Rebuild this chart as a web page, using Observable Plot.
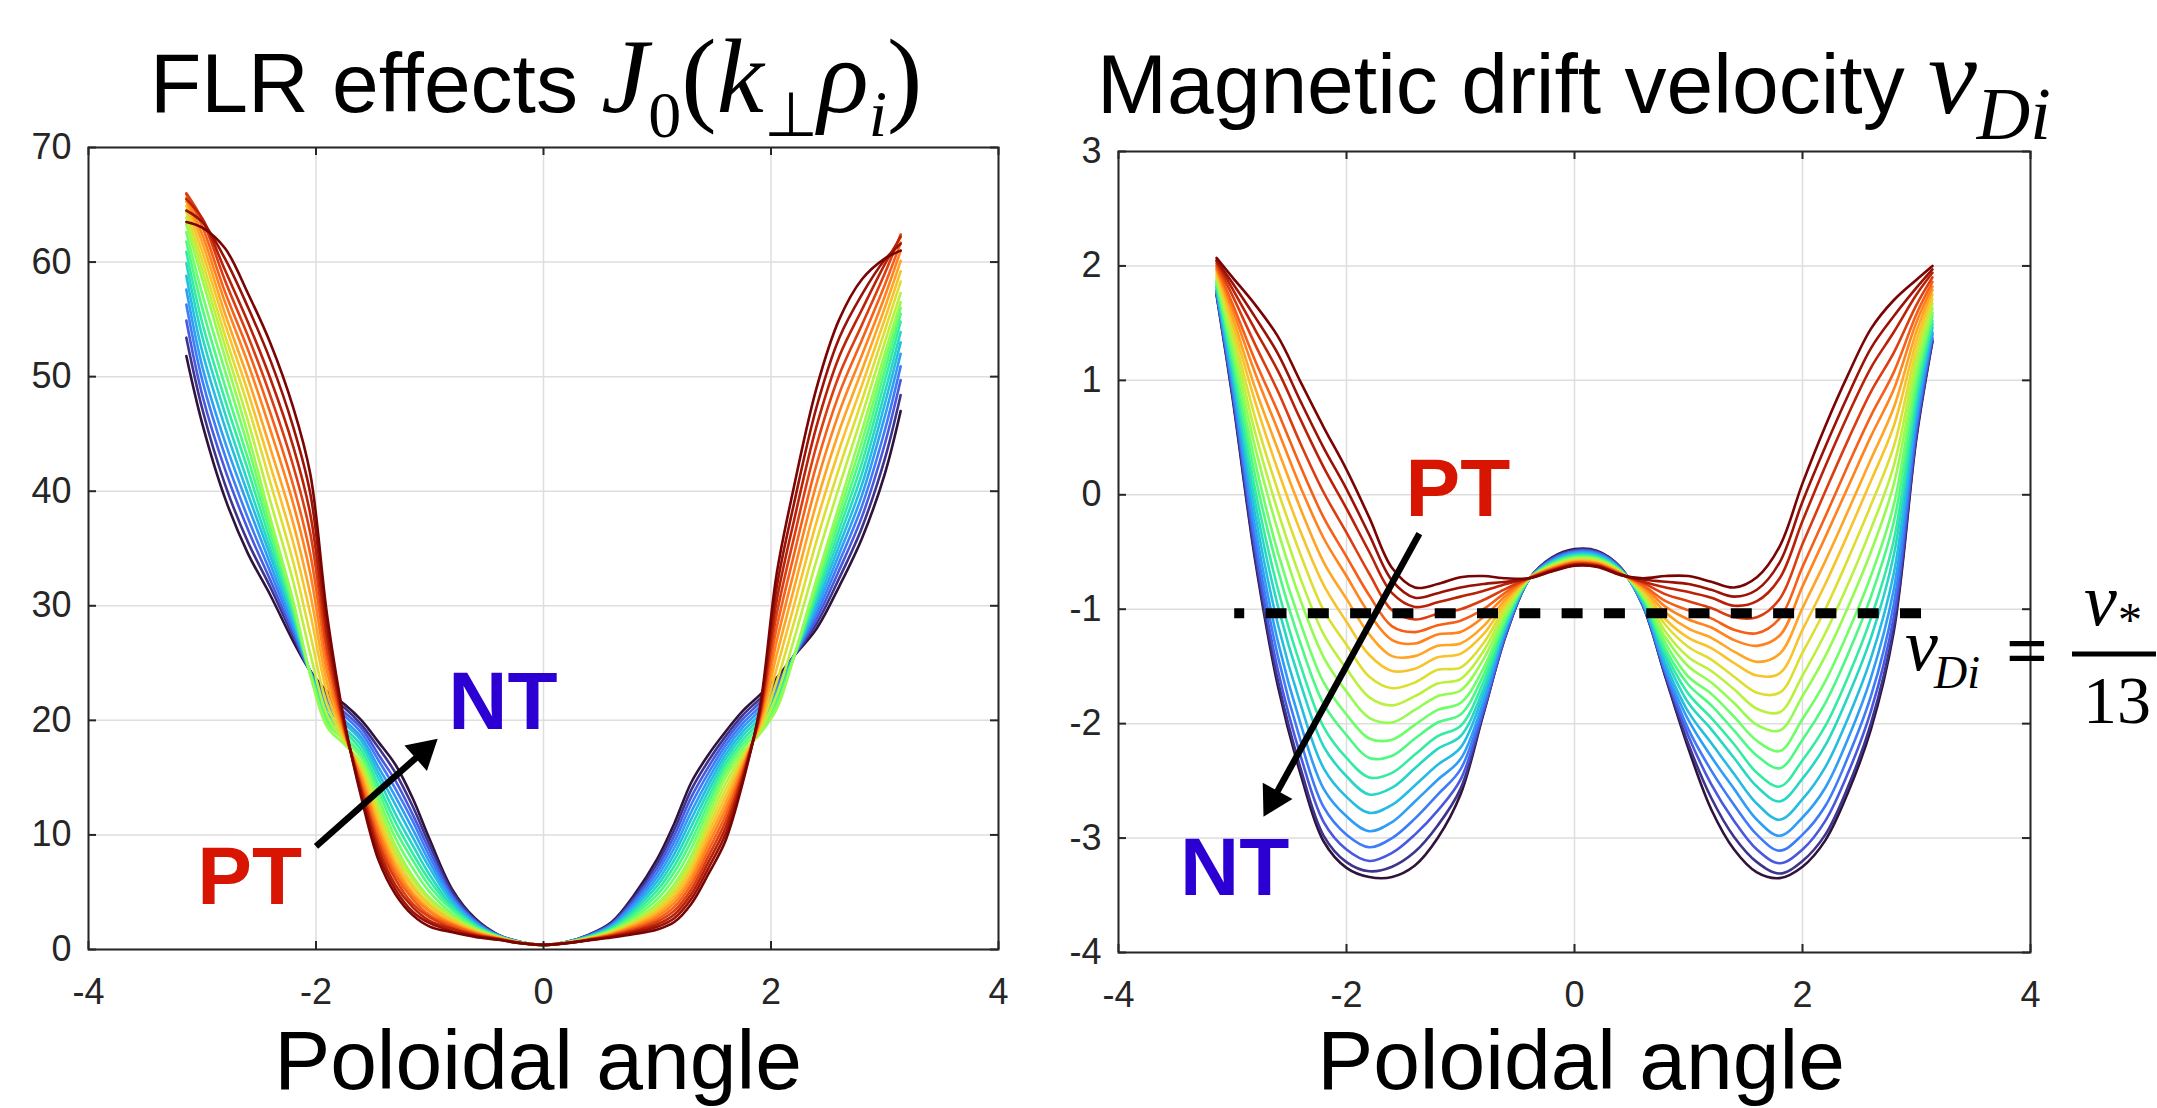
<!DOCTYPE html>
<html>
<head>
<meta charset="utf-8">
<script src="https://cdn.jsdelivr.net/npm/d3@7"></script>
<script src="https://cdn.jsdelivr.net/npm/@observablehq/plot@0.6"></script>
<style>
  html, body { margin: 0; padding: 0; background: #fff; }
  #page { position: relative; width: 2157px; height: 1108px; overflow: hidden; background: #fff; }
  #page > .panel { position: absolute; top: 0; }
  #overlay { position: absolute; left: 0; top: 0; pointer-events: none; }
</style>
</head>
<body>
<div id="page"></div>
<script>
// ---------------------------------------------------------------------------
// Data. Curves are ordered from negative triangularity (NT, index 0) to
// positive triangularity (PT, index 20). Each table row is one poloidal angle;
// each column is one curve.
// ---------------------------------------------------------------------------
const curveCount = 21;

const xTicks = [-4, -2, 0, 2, 4];
const flrTicks = [0, 10, 20, 30, 40, 50, 60, 70];
const vdiTicks = [-4, -3, -2, -1, 0, 1, 2, 3];

// FLR effects J0(k_perp rho_i) versus poloidal angle
const thetaFlr = [-3.14, -3.0, -2.8, -2.6, -2.4, -2.2, -2.05, -1.9, -1.75, -1.6, -1.45, -1.3, -1.15, -1.0, -0.8, -0.6, -0.4, -0.2, 0,
                  0.2, 0.4, 0.6, 0.8, 1.0, 1.15, 1.3, 1.45, 1.6, 1.75, 1.9, 2.05, 2.2, 2.4, 2.6, 2.8, 3.0, 3.14];
const flrTable = [
  [51.8, 53.4, 54.9, 56.3, 57.6, 58.8, 59.9, 60.9, 61.8, 62.6, 63.3, 63.9, 64.4, 64.9, 65.3, 65.6, 65.9, 66.0, 65.5, 64.5, 63.5],
  [45.9, 47.2, 48.4, 49.7, 50.9, 52.2, 53.5, 54.7, 56.0, 57.2, 58.5, 59.3, 60.1, 60.9, 61.7, 62.4, 63.1, 63.7, 63.8, 63.5, 63.0],
  [39.4, 40.6, 41.9, 43.1, 44.3, 45.6, 46.8, 48.0, 49.2, 50.5, 51.7, 52.7, 53.6, 54.6, 55.5, 56.5, 57.4, 58.4, 59.3, 60.3, 61.2],
  [34.6, 35.6, 36.7, 37.7, 38.8, 39.8, 40.8, 41.9, 42.9, 44.0, 45.0, 46.2, 47.5, 48.7, 49.9, 51.2, 52.4, 53.6, 54.8, 56.1, 57.3],
  [30.9, 31.6, 32.2, 32.9, 33.6, 34.3, 34.9, 35.6, 36.3, 36.9, 37.6, 39.1, 40.7, 42.2, 43.7, 45.3, 46.8, 48.3, 49.8, 51.4, 52.9],
  [26.9, 27.3, 27.6, 28.0, 28.3, 28.7, 29.0, 29.4, 29.7, 30.1, 30.4, 32.1, 33.8, 35.5, 37.2, 38.9, 40.5, 42.2, 43.9, 45.6, 47.3],
  [24.3, 24.3, 24.2, 24.2, 24.2, 24.2, 24.1, 24.1, 24.1, 24.0, 24.0, 25.8, 27.5, 29.3, 31.0, 32.8, 34.5, 36.3, 38.0, 39.8, 41.5],
  [22.5, 22.2, 21.9, 21.6, 21.3, 21.0, 20.6, 20.3, 20.0, 19.7, 19.4, 20.4, 21.3, 22.3, 23.2, 24.2, 25.2, 26.1, 27.1, 28.0, 29.0],
  [21.4, 21.1, 20.7, 20.4, 20.0, 19.7, 19.3, 19.0, 18.6, 18.3, 17.9, 18.1, 18.3, 18.5, 18.7, 18.9, 19.1, 19.3, 19.5, 19.7, 19.9],
  [20.0, 19.6, 19.3, 18.9, 18.5, 18.2, 17.8, 17.4, 17.0, 16.7, 16.3, 16.0, 15.7, 15.4, 15.1, 14.8, 14.4, 14.1, 13.8, 13.5, 13.2],
  [18.1, 17.6, 17.0, 16.5, 15.9, 15.4, 14.9, 14.3, 13.8, 13.2, 12.7, 12.2, 11.7, 11.2, 10.7, 10.3, 9.8, 9.3, 8.8, 8.3, 7.8],
  [16.1, 15.4, 14.7, 14.0, 13.3, 12.6, 11.8, 11.1, 10.4, 9.7, 9.0, 8.6, 8.2, 7.7, 7.3, 6.9, 6.5, 6.1, 5.6, 5.2, 4.8],
  [13.2, 12.5, 11.8, 11.2, 10.5, 9.8, 9.1, 8.4, 7.8, 7.1, 6.4, 6.1, 5.7, 5.4, 5.0, 4.7, 4.4, 4.0, 3.7, 3.3, 3.0],
  [9.6, 9.1, 8.6, 8.1, 7.6, 7.1, 6.5, 6.0, 5.5, 5.0, 4.5, 4.3, 4.0, 3.8, 3.5, 3.3, 3.0, 2.8, 2.5, 2.3, 2.0],
  [5.2, 5.0, 4.7, 4.5, 4.3, 4.1, 3.8, 3.6, 3.4, 3.1, 2.9, 2.8, 2.6, 2.5, 2.3, 2.2, 2.1, 1.9, 1.8, 1.6, 1.5],
  [2.7, 2.61, 2.52, 2.43, 2.34, 2.25, 2.16, 2.07, 1.98, 1.89, 1.8, 1.73, 1.66, 1.59, 1.52, 1.45, 1.38, 1.31, 1.24, 1.17, 1.1],
  [1.3, 1.28, 1.26, 1.24, 1.22, 1.2, 1.18, 1.16, 1.14, 1.12, 1.1, 1.08, 1.05, 1.03, 1.0, 0.98, 0.95, 0.93, 0.9, 0.88, 0.85],
  [0.65, 0.645, 0.64, 0.635, 0.63, 0.625, 0.62, 0.615, 0.61, 0.605, 0.6, 0.595, 0.59, 0.585, 0.58, 0.575, 0.57, 0.565, 0.56, 0.555, 0.55],
  [0.4, 0.4, 0.4, 0.4, 0.4, 0.4, 0.4, 0.4, 0.4, 0.4, 0.4, 0.4, 0.4, 0.4, 0.4, 0.4, 0.4, 0.4, 0.4, 0.4, 0.4],
  [0.65, 0.645, 0.64, 0.635, 0.63, 0.625, 0.62, 0.615, 0.61, 0.605, 0.6, 0.595, 0.59, 0.585, 0.58, 0.575, 0.57, 0.565, 0.56, 0.555, 0.55],
  [1.3, 1.27, 1.24, 1.21, 1.18, 1.15, 1.12, 1.09, 1.06, 1.03, 1.0, 0.98, 0.96, 0.94, 0.92, 0.9, 0.88, 0.86, 0.84, 0.82, 0.8],
  [2.4, 2.32, 2.24, 2.16, 2.08, 2.0, 1.92, 1.84, 1.76, 1.68, 1.6, 1.55, 1.49, 1.44, 1.38, 1.33, 1.27, 1.22, 1.16, 1.11, 1.05],
  [4.8, 4.58, 4.36, 4.14, 3.92, 3.7, 3.48, 3.26, 3.04, 2.82, 2.6, 2.48, 2.35, 2.23, 2.1, 1.98, 1.85, 1.73, 1.6, 1.48, 1.35],
  [7.9, 7.51, 7.12, 6.73, 6.34, 5.95, 5.56, 5.17, 4.78, 4.39, 4.0, 3.78, 3.55, 3.33, 3.1, 2.88, 2.65, 2.43, 2.2, 1.98, 1.75],
  [11.0, 10.47, 9.94, 9.41, 8.88, 8.35, 7.82, 7.29, 6.76, 6.23, 5.7, 5.37, 5.04, 4.71, 4.38, 4.05, 3.72, 3.39, 3.06, 2.73, 2.4],
  [14.6, 13.96, 13.32, 12.68, 12.04, 11.4, 10.76, 10.12, 9.48, 8.84, 8.2, 7.78, 7.36, 6.94, 6.52, 6.1, 5.68, 5.26, 4.84, 4.42, 4.0],
  [17.0, 16.47, 15.94, 15.41, 14.88, 14.35, 13.82, 13.29, 12.76, 12.23, 11.7, 11.19, 10.68, 10.17, 9.66, 9.15, 8.64, 8.13, 7.62, 7.11, 6.6],
  [19.0, 18.6, 18.2, 17.8, 17.4, 17.0, 16.6, 16.2, 15.8, 15.4, 15.0, 14.45, 13.9, 13.35, 12.8, 12.25, 11.7, 11.15, 10.6, 10.05, 9.5],
  [20.8, 20.44, 20.08, 19.72, 19.36, 19.0, 18.64, 18.28, 17.92, 17.56, 17.2, 16.93, 16.66, 16.39, 16.12, 15.85, 15.58, 15.31, 15.04, 14.77, 14.5],
  [22.2, 21.86, 21.52, 21.18, 20.84, 20.5, 20.16, 19.82, 19.48, 19.14, 18.8, 19.02, 19.24, 19.46, 19.68, 19.9, 20.12, 20.34, 20.56, 20.78, 21.0],
  [23.7, 23.43, 23.16, 22.89, 22.62, 22.35, 22.08, 21.81, 21.54, 21.27, 21.0, 22.18, 23.36, 24.54, 25.72, 26.9, 28.08, 29.26, 30.44, 31.62, 32.8],
  [25.6, 25.6, 25.6, 25.6, 25.6, 25.55, 25.55, 25.5, 25.5, 25.5, 25.5, 26.98, 28.46, 29.94, 31.42, 32.9, 34.38, 35.86, 37.34, 38.82, 40.3],
  [28.0, 28.43, 28.86, 29.29, 29.72, 30.15, 30.58, 31.01, 31.44, 31.87, 32.3, 33.97, 35.64, 37.31, 38.98, 40.65, 42.32, 43.99, 45.66, 47.33, 49.0],
  [31.7, 32.41, 33.12, 33.83, 34.54, 35.25, 35.96, 36.67, 37.38, 38.09, 38.8, 40.42, 42.04, 43.66, 45.28, 46.9, 48.52, 50.14, 51.76, 53.38, 55.0],
  [35.9, 36.84, 37.78, 38.72, 39.66, 40.6, 41.54, 42.48, 43.42, 44.36, 45.3, 46.62, 47.94, 49.26, 50.58, 51.9, 53.22, 54.54, 55.86, 57.18, 58.5],
  [41.5, 42.8, 44.1, 45.3, 46.5, 47.6, 48.6, 49.6, 50.5, 51.3, 52.0, 53.0, 54.0, 55.0, 56.0, 57.0, 58.0, 59.0, 59.8, 60.2, 60.3],
  [47.0, 48.4, 49.7, 50.9, 52.0, 53.0, 53.9, 54.8, 55.5, 56.0, 56.5, 57.3, 58.3, 59.2, 60.1, 61.0, 61.7, 62.4, 62.2, 61.6, 61.0]
];

// Magnetic drift velocity v_Di versus poloidal angle
const thetaVdi = [-3.14, -3.0, -2.8, -2.6, -2.4, -2.2, -2.0, -1.8, -1.6, -1.4, -1.2, -1.0, -0.8, -0.6, -0.4, -0.2, 0,
                  0.2, 0.4, 0.6, 0.8, 1.0, 1.2, 1.4, 1.6, 1.8, 2.0, 2.2, 2.4, 2.6, 2.8, 3.0, 3.14];
const vdiTable = [
  [1.75, 1.75, 1.77, 1.78, 1.79, 1.81, 1.82, 1.84, 1.86, 1.87, 1.89, 1.91, 1.93, 1.95, 1.97, 1.98, 2.00, 2.02, 2.04, 2.05, 2.07],
  [0.85, 0.87, 0.90, 0.94, 0.98, 1.04, 1.09, 1.14, 1.20, 1.25, 1.32, 1.38, 1.44, 1.50, 1.56, 1.62, 1.67, 1.74, 1.80, 1.85, 1.90],
  [-0.58, -0.55, -0.48, -0.39, -0.29, -0.18, -0.07, 0.04, 0.16, 0.28, 0.41, 0.54, 0.67, 0.81, 0.93, 1.06, 1.17, 1.31, 1.44, 1.55, 1.66],
  [-1.68, -1.63, -1.54, -1.42, -1.29, -1.14, -0.98, -0.83, -0.66, -0.51, -0.32, -0.15, 0.03, 0.21, 0.39, 0.56, 0.72, 0.90, 1.08, 1.23, 1.38],
  [-2.45, -2.40, -2.29, -2.16, -2.01, -1.84, -1.66, -1.50, -1.31, -1.13, -0.93, -0.74, -0.53, -0.33, -0.13, 0.06, 0.24, 0.44, 0.65, 0.81, 0.98],
  [-3.03, -2.98, -2.86, -2.73, -2.57, -2.39, -2.20, -2.03, -1.83, -1.64, -1.42, -1.22, -1.01, -0.79, -0.59, -0.38, -0.20, 0.02, 0.24, 0.41, 0.59],
  [-3.26, -3.21, -3.10, -2.97, -2.81, -2.64, -2.46, -2.30, -2.10, -1.92, -1.72, -1.52, -1.31, -1.11, -0.91, -0.71, -0.54, -0.33, -0.12, 0.05, 0.22],
  [-3.34, -3.29, -3.20, -3.08, -2.94, -2.78, -2.62, -2.47, -2.30, -2.13, -1.95, -1.77, -1.59, -1.40, -1.22, -1.04, -0.88, -0.69, -0.50, -0.35, -0.20],
  [-3.34, -3.25, -3.13, -3.00, -2.86, -2.71, -2.56, -2.43, -2.28, -2.14, -1.99, -1.84, -1.69, -1.54, -1.41, -1.27, -1.15, -1.01, -0.86, -0.75, -0.64],
  [-3.24, -3.12, -2.97, -2.83, -2.68, -2.54, -2.39, -2.27, -2.13, -2.01, -1.88, -1.76, -1.64, -1.52, -1.41, -1.30, -1.20, -1.09, -0.98, -0.90, -0.81],
  [-3.00, -2.89, -2.76, -2.62, -2.49, -2.36, -2.22, -2.11, -1.99, -1.88, -1.76, -1.65, -1.53, -1.42, -1.32, -1.22, -1.14, -1.04, -0.94, -0.86, -0.78],
  [-2.62, -2.57, -2.49, -2.40, -2.31, -2.21, -2.11, -2.02, -1.92, -1.82, -1.71, -1.61, -1.51, -1.39, -1.30, -1.20, -1.10, -1.00, -0.89, -0.81, -0.72],
  [-1.92, -1.91, -1.89, -1.85, -1.81, -1.75, -1.70, -1.64, -1.58, -1.52, -1.44, -1.37, -1.30, -1.22, -1.15, -1.07, -1.00, -0.92, -0.84, -0.78, -0.71],
  [-1.22, -1.22, -1.21, -1.19, -1.17, -1.15, -1.13, -1.11, -1.08, -1.06, -1.03, -1.00, -0.97, -0.94, -0.91, -0.88, -0.85, -0.82, -0.78, -0.76, -0.73],
  [-0.74, -0.74, -0.74, -0.74, -0.74, -0.74, -0.74, -0.74, -0.74, -0.74, -0.74, -0.73, -0.73, -0.73, -0.73, -0.73, -0.73, -0.73, -0.73, -0.73, -0.73],
  [-0.550, -0.556, -0.563, -0.570, -0.578, -0.585, -0.592, -0.598, -0.605, -0.611, -0.617, -0.623, -0.629, -0.635, -0.641, -0.646, -0.651, -0.656, -0.662, -0.666, -0.670],
  [-0.475, -0.482, -0.491, -0.500, -0.508, -0.517, -0.526, -0.533, -0.541, -0.548, -0.556, -0.563, -0.571, -0.578, -0.584, -0.591, -0.597, -0.603, -0.610, -0.615, -0.620],
  [-0.490, -0.497, -0.505, -0.514, -0.522, -0.531, -0.539, -0.546, -0.554, -0.561, -0.568, -0.575, -0.582, -0.589, -0.596, -0.602, -0.608, -0.614, -0.620, -0.625, -0.630],
  [-0.630, -0.634, -0.638, -0.642, -0.646, -0.650, -0.655, -0.658, -0.662, -0.665, -0.669, -0.673, -0.676, -0.680, -0.683, -0.686, -0.689, -0.692, -0.695, -0.698, -0.700],
  [-0.97, -0.97, -0.96, -0.96, -0.95, -0.94, -0.93, -0.91, -0.90, -0.89, -0.88, -0.86, -0.85, -0.83, -0.82, -0.80, -0.79, -0.77, -0.76, -0.74, -0.73],
  [-1.60, -1.59, -1.57, -1.55, -1.52, -1.48, -1.43, -1.39, -1.35, -1.30, -1.25, -1.20, -1.14, -1.09, -1.03, -0.98, -0.93, -0.87, -0.81, -0.76, -0.71],
  [-2.22, -2.18, -2.11, -2.05, -1.97, -1.90, -1.82, -1.74, -1.66, -1.59, -1.50, -1.42, -1.33, -1.25, -1.17, -1.09, -1.01, -0.93, -0.85, -0.78, -0.71],
  [-2.75, -2.65, -2.53, -2.41, -2.29, -2.17, -2.05, -1.95, -1.84, -1.74, -1.64, -1.54, -1.44, -1.34, -1.25, -1.16, -1.08, -0.99, -0.90, -0.83, -0.76],
  [-3.10, -2.99, -2.85, -2.71, -2.57, -2.44, -2.30, -2.18, -2.06, -1.94, -1.82, -1.70, -1.59, -1.47, -1.37, -1.27, -1.18, -1.07, -0.97, -0.89, -0.81],
  [-3.30, -3.21, -3.10, -2.97, -2.84, -2.70, -2.55, -2.43, -2.28, -2.15, -2.01, -1.87, -1.73, -1.58, -1.46, -1.32, -1.21, -1.07, -0.93, -0.83, -0.72],
  [-3.35, -3.31, -3.22, -3.11, -2.98, -2.84, -2.68, -2.55, -2.39, -2.24, -2.06, -1.90, -1.73, -1.56, -1.39, -1.23, -1.08, -0.91, -0.73, -0.59, -0.45],
  [-3.25, -3.20, -3.10, -2.97, -2.82, -2.66, -2.48, -2.32, -2.14, -1.96, -1.76, -1.58, -1.38, -1.18, -0.99, -0.80, -0.63, -0.43, -0.23, -0.06, 0.10],
  [-3.02, -2.97, -2.85, -2.72, -2.56, -2.38, -2.19, -2.02, -1.82, -1.63, -1.41, -1.21, -1.00, -0.78, -0.58, -0.37, -0.19, 0.03, 0.25, 0.42, 0.60],
  [-2.60, -2.55, -2.43, -2.29, -2.13, -1.95, -1.76, -1.59, -1.39, -1.20, -0.98, -0.78, -0.56, -0.34, -0.14, 0.07, 0.26, 0.48, 0.70, 0.87, 1.05],
  [-2.05, -2.00, -1.89, -1.76, -1.60, -1.43, -1.25, -1.08, -0.89, -0.71, -0.50, -0.30, -0.09, 0.12, 0.31, 0.51, 0.69, 0.90, 1.11, 1.28, 1.45],
  [-1.20, -1.16, -1.07, -0.96, -0.83, -0.69, -0.53, -0.40, -0.24, -0.09, 0.09, 0.25, 0.42, 0.60, 0.76, 0.92, 1.07, 1.24, 1.42, 1.56, 1.70],
  [0.50, 0.52, 0.56, 0.62, 0.68, 0.74, 0.82, 0.88, 0.96, 1.03, 1.11, 1.19, 1.27, 1.35, 1.43, 1.51, 1.58, 1.66, 1.75, 1.81, 1.88],
  [1.34, 1.35, 1.37, 1.40, 1.42, 1.46, 1.49, 1.52, 1.56, 1.59, 1.63, 1.67, 1.71, 1.75, 1.79, 1.82, 1.86, 1.90, 1.94, 1.97, 2.00]
];

// Reference level v_Di = v_* / 13 (dashed line) and its angular extent
const vStarLevel = -1.035;
const vStarTheta = [-2.985, 3.06];

// Annotations (data coordinates of each panel)
const flrLabels = [
  {text: "NT", theta: -0.356, value: 19.27},
  {text: "PT", theta: -2.583, value: 4.01}
];
const flrArrow = [{theta1: -2.0, value1: 9.0, theta2: -0.93, value2: 18.4}];
const vdiLabels = [
  {text: "PT", theta: -1.023, value: -0.183},
  {text: "NT", theta: -2.981, value: -3.496}
];
const vdiArrow = [{theta1: -1.361, value1: -0.34, theta2: -2.728, value2: -2.813}];

// ---------------------------------------------------------------------------
// Styles
// ---------------------------------------------------------------------------
const sans = "'Liberation Sans', Arial, Helvetica, sans-serif";
const serif = "'Liberation Serif', 'Times New Roman', Times, serif";
const axisColor = "#262626";
const gridColor = "#dedede";
const ntColor = "#2c00d2";
const ptColor = "#d81500";
const labelColor = {NT: ntColor, PT: ptColor};

// turbo colour map with the darker end points used by MATLAB's turbo
function turbo(t) {
  if (t < 0.1) return d3.interpolateRgb("#30123b", d3.interpolateTurbo(0.1))(t / 0.1);
  if (t > 0.9) return d3.interpolateRgb(d3.interpolateTurbo(0.9), "#7a0403")((t - 0.9) / 0.1);
  return d3.interpolateTurbo(t);
}
const curveColor = (c) => turbo(c / (curveCount - 1));

function longRows(theta, table) {
  const rows = [];
  for (let c = 0; c < curveCount; ++c)
    for (let k = 0; k < theta.length; ++k)
      rows.push({curve: c, theta: theta[k], value: table[k][c]});
  return rows;
}
const fmt = (d) => String(d);

function panel({width, margins, yDomain, yTicks, rows, extraMarks}) {
  const [mt, mr, mb, ml] = margins;
  const height = 1108;
  const innerW = width - ml - mr;
  const innerH = height - mt - mb;
  const tickLen = 8;
  return Plot.plot({
    width, height,
    marginTop: mt, marginRight: mr, marginBottom: mb, marginLeft: ml,
    style: {fontFamily: sans, fontSize: "36px", color: axisColor, background: "transparent", overflow: "visible"},
    x: {domain: [-4, 4], ticks: xTicks, tickSize: 0, tickPadding: 29, tickFormat: fmt, label: null},
    y: {domain: yDomain, ticks: yTicks, tickSize: 0, tickPadding: 17, tickFormat: fmt, label: null},
    marks: [
      Plot.ruleX(xTicks, {x: (d) => d, stroke: gridColor, strokeWidth: 1.5}),
      Plot.ruleY(yTicks, {y: (d) => d, stroke: gridColor, strokeWidth: 1.5}),
      Plot.line(rows, {
        x: "theta", y: "value", z: "curve",
        stroke: (d) => curveColor(d.curve),
        strokeWidth: 2.6, curve: "catmull-rom"
      }),
      ...extraMarks,
      Plot.tickX(xTicks, {x: (d) => d, insetTop: innerH - tickLen, stroke: axisColor, strokeWidth: 2}),
      Plot.tickX(xTicks, {x: (d) => d, insetBottom: innerH - tickLen, stroke: axisColor, strokeWidth: 2}),
      Plot.tickY(yTicks, {y: (d) => d, insetRight: innerW - tickLen, stroke: axisColor, strokeWidth: 2}),
      Plot.tickY(yTicks, {y: (d) => d, insetLeft: innerW - tickLen, stroke: axisColor, strokeWidth: 2}),
      Plot.frame({stroke: axisColor, strokeWidth: 2})
    ]
  });
}

function arrowMarks(data, rotate, dx, dy) {
  return [
    Plot.arrow(data, {
      x1: "theta1", y1: "value1", x2: "theta2", y2: "value2",
      stroke: "black", strokeWidth: 6.5, headLength: 0, insetEnd: 20, strokeLinecap: "butt"
    }),
    Plot.dot(data, {
      x: "theta2", y: "value2", symbol: "triangle", r: 12.6,
      fill: "black", stroke: "none", rotate, dx, dy
    })
  ];
}

function labelMarks(data) {
  return Plot.text(data, {
    x: "theta", y: "value", text: "text",
    fill: (d) => labelColor[d.text],
    fontFamily: sans, fontWeight: "bold", fontSize: 82,
    textAnchor: "middle", lineAnchor: "bottom"
  });
}

const page = document.getElementById("page");

const flrPlot = panel({
  width: 1060,
  margins: [147, 62, 159, 88],
  yDomain: [0, 70],
  yTicks: flrTicks,
  rows: longRows(thetaFlr, flrTable),
  extraMarks: [...arrowMarks(flrArrow, 48.5, -14.7, 13.0), labelMarks(flrLabels)]
});
flrPlot.classList.add("panel");
flrPlot.style.left = "0px";
page.appendChild(flrPlot);

const vdiPlot = panel({
  width: 1097,
  margins: [151, 127, 156, 58],
  yDomain: [-4, 3],
  yTicks: vdiTicks,
  rows: longRows(thetaVdi, vdiTable),
  extraMarks: [
    Plot.line(vStarTheta.map((t) => ({theta: t, value: vStarLevel})), {
      x: "theta", y: "value", stroke: "black", strokeWidth: 10,
      strokeDasharray: "21,21.3", strokeDashoffset: 11, strokeLinecap: "butt"
    }),
    ...arrowMarks(vdiArrow, 208.7, 9.4, -17.2),
    labelMarks(vdiLabels)
  ]
});
vdiPlot.classList.add("panel");
vdiPlot.style.left = "1060px";
page.appendChild(vdiPlot);

// Titles, axis names and the v_Di = v_*/13 formula
const ns = "http://www.w3.org/2000/svg";
const overlay = document.createElementNS(ns, "svg");
overlay.setAttribute("id", "overlay");
overlay.setAttribute("width", 2157);
overlay.setAttribute("height", 1108);
page.appendChild(overlay);

function addText(x, y, anchor, parts) {
  const t = document.createElementNS(ns, "text");
  t.setAttribute("x", x);
  t.setAttribute("y", y);
  t.setAttribute("text-anchor", anchor);
  t.setAttribute("fill", "#000");
  t.style.whiteSpace = "pre";
  for (const p of parts) {
    const s = document.createElementNS(ns, "tspan");
    s.textContent = p.text;
    s.setAttribute("font-family", p.serif ? serif : sans);
    s.setAttribute("font-size", p.size);
    if (p.italic) s.setAttribute("font-style", "italic");
    if (p.bold) s.setAttribute("font-weight", "bold");
    if (p.dy) s.setAttribute("dy", p.dy);
    t.appendChild(s);
  }
  overlay.appendChild(t);
}

addText(150, 112, "start", [
  {text: "FLR effects ", size: 84},
  {text: "J", size: 106, serif: true, italic: true},
  {text: "0", size: 66, serif: true, dy: 25},
  {text: "(", size: 106, serif: true, dy: -25},
  {text: "k", size: 106, serif: true, italic: true},
  {text: "\u22A5", size: 62, serif: true, dy: 24},
  {text: "\u03C1", size: 106, serif: true, italic: true, dy: -24},
  {text: "i", size: 66, serif: true, italic: true, dy: 24},
  {text: ")", size: 106, serif: true, dy: -24}
]);
addText(1097, 113, "start", [
  {text: "Magnetic drift velocity ", size: 84},
  {text: "v", size: 110, serif: true, italic: true},
  {text: "Di", size: 74, serif: true, italic: true, dy: 26}
]);
addText(538, 1089, "middle", [{text: "Poloidal angle", size: 84}]);
addText(1581, 1089, "middle", [{text: "Poloidal angle", size: 84}]);

addText(1905, 670, "start", [{text: "v", size: 74, serif: true, italic: true}]);
addText(1934, 688, "start", [{text: "Di", size: 46, serif: true, italic: true}]);
addText(2006, 676, "start", [{text: "=", size: 74, serif: true, bold: true}]);
addText(2084, 625, "start", [{text: "v", size: 74, serif: true, italic: true}]);
addText(2118, 636, "start", [{text: "*", size: 48, serif: true}]);
addText(2083, 723, "start", [{text: "13", size: 68, serif: true}]);
const bar = document.createElementNS(ns, "rect");
bar.setAttribute("x", 2072);
bar.setAttribute("y", 651.5);
bar.setAttribute("width", 84);
bar.setAttribute("height", 5);
bar.setAttribute("fill", "#000");
overlay.appendChild(bar);
</script>
</body>
</html>
